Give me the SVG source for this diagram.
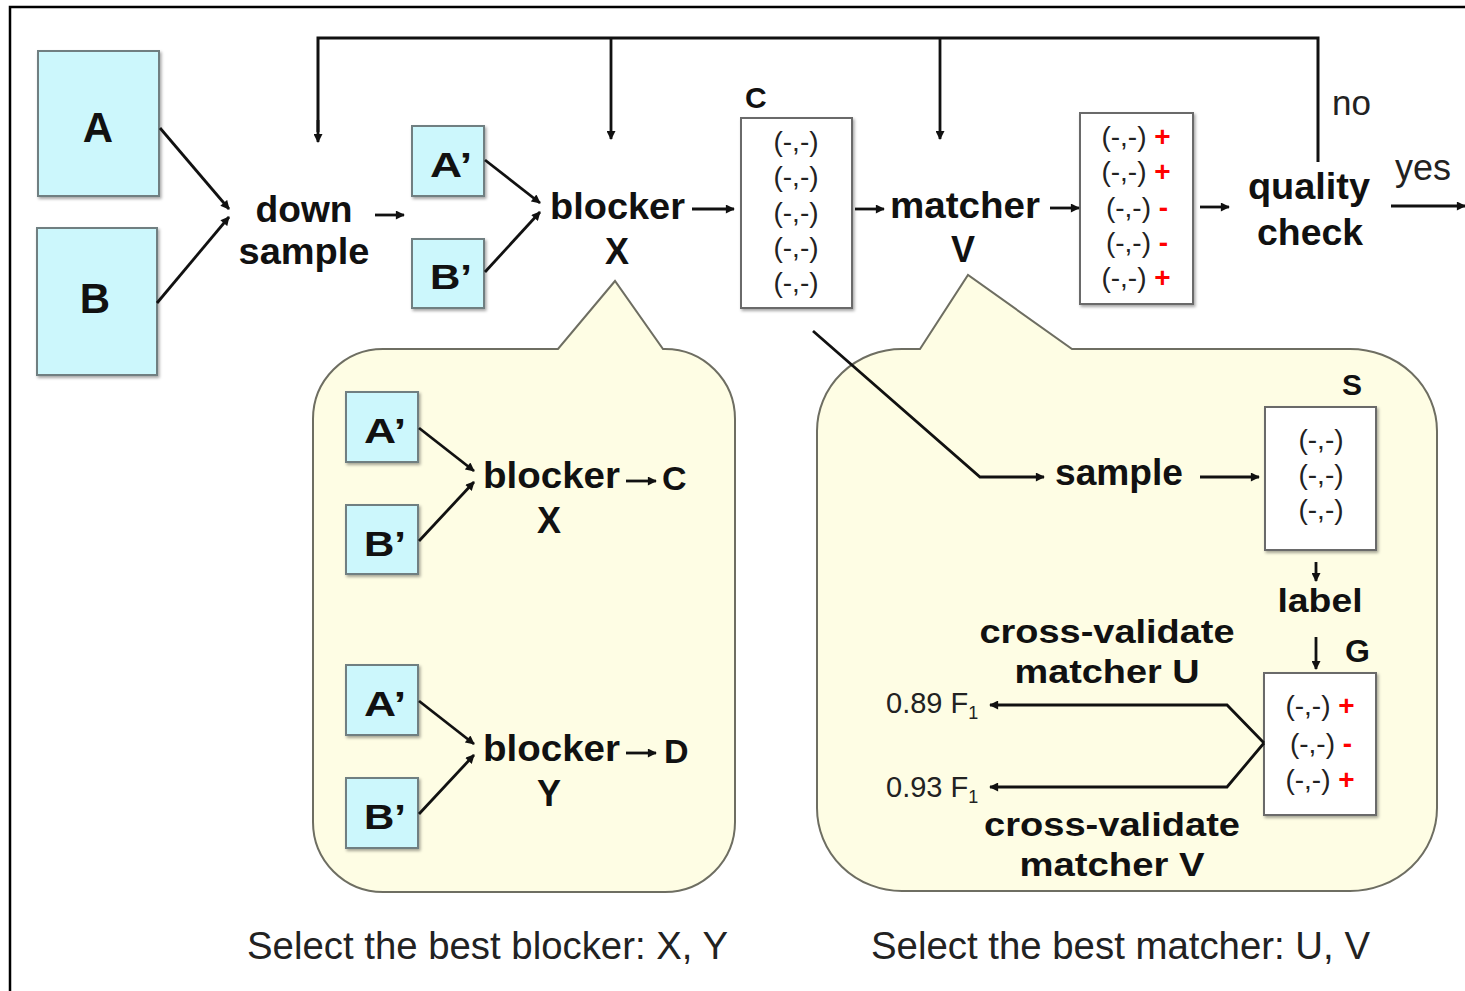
<svg xmlns="http://www.w3.org/2000/svg" width="1465" height="991" viewBox="0 0 1465 991">
  <defs>
    <marker id="arrow" viewBox="0 0 10 10" refX="9" refY="5" markerWidth="10" markerHeight="9" markerUnits="userSpaceOnUse" orient="auto">
      <path d="M0,0 L10,5 L0,10 z" fill="#111"/>
    </marker>
    <filter id="shadow" x="-10%" y="-10%" width="130%" height="130%">
      <feDropShadow dx="1.5" dy="2" stdDeviation="1.5" flood-color="#000" flood-opacity="0.35"/>
    </filter>
  </defs>
  <style>
    .table { fill: #ccf7fc; stroke: #6f7f81; stroke-width: 2; filter: url(#shadow); }
    .set { fill: #ffffff; stroke: #6a6a6a; stroke-width: 2; filter: url(#shadow); }
    .bubble { fill: #fefde4; stroke: #6e6e62; stroke-width: 2; }
    .b { font-family: "Liberation Sans", Arial, sans-serif; font-weight: bold; fill: #111; }
    .n { font-family: "Liberation Sans", Arial, sans-serif; fill: #222; }
    .pair { font-family: "Liberation Sans", Arial, sans-serif; font-size: 28px; fill: #222; }
    .pos { fill: #f00; font-weight: bold; }
    .c { text-anchor: middle; }
    .arr { fill: none; stroke: #111; stroke-width: 2.8; marker-end: url(#arrow); }
    .loop { fill: none; stroke: #111; stroke-width: 3; }
  </style>

  <!-- frame -->
  <path d="M10,991 V7 H1465" fill="none" stroke="#000" stroke-width="2.5"/>

  <!-- callout bubbles -->
  <g id="blocker-bubble">
    <path class="bubble" d="M383,349 H558 L615,281 L663,349 H665 A70,70 0 0 1 735,419 V822 A70,70 0 0 1 665,892 H383 A70,70 0 0 1 313,822 V419 A70,70 0 0 1 383,349 Z"/>
  </g>
  <g id="matcher-bubble">
    <path class="bubble" d="M902,349 H920 L968,275 L1072,349 H1350 A87,82 0 0 1 1437,431 V808 A87,83 0 0 1 1350,891 H902 A85,83 0 0 1 817,808 V431 A85,82 0 0 1 902,349 Z"/>
  </g>

  <!-- input tables -->
  <g id="table-A">
    <rect class="table" x="38" y="51" width="121" height="145"/>
    <text class="b c" x="98" y="142" font-size="42">A</text>
  </g>
  <g id="table-B">
    <rect class="table" x="37" y="228" width="120" height="147"/>
    <text class="b c" x="95" y="313" font-size="42">B</text>
  </g>

  <g id="down-sample">
    <text class="b c" x="304" y="222" font-size="36" textLength="97" lengthAdjust="spacingAndGlyphs">down</text>
    <text class="b c" x="304" y="264" font-size="36" textLength="131" lengthAdjust="spacingAndGlyphs">sample</text>
  </g>

  <g id="table-A1">
    <rect class="table" x="412" y="126" width="72" height="70"/>
    <text class="b c" x="451" y="177" font-size="35" textLength="42" lengthAdjust="spacingAndGlyphs">A’</text>
  </g>
  <g id="table-B1">
    <rect class="table" x="412" y="239" width="72" height="69"/>
    <text class="b c" x="451" y="289" font-size="35" textLength="42" lengthAdjust="spacingAndGlyphs">B’</text>
  </g>

  <g id="blocker-X">
    <text class="b" x="550" y="219" font-size="36" textLength="135" lengthAdjust="spacingAndGlyphs">blocker</text>
    <text class="b c" x="617" y="264" font-size="36">X</text>
  </g>

  <g id="candidates-C">
    <text class="b" x="745" y="108" font-size="30">C</text>
    <rect class="set" x="741" y="118" width="111" height="190"/>
    <text class="pair c" x="796" y="151">(-,-)</text>
    <text class="pair c" x="796" y="186">(-,-)</text>
    <text class="pair c" x="796" y="221.5">(-,-)</text>
    <text class="pair c" x="796" y="257">(-,-)</text>
    <text class="pair c" x="796" y="292">(-,-)</text>
  </g>

  <g id="matcher-V">
    <text class="b" x="890" y="218" font-size="36" textLength="150" lengthAdjust="spacingAndGlyphs">matcher</text>
    <text class="b c" x="963" y="262" font-size="36">V</text>
  </g>

  <g id="predictions">
    <rect class="set" x="1080" y="113" width="113" height="191"/>
    <text class="pair c" x="1136" y="146">(-,-) <tspan class="pos">+</tspan></text>
    <text class="pair c" x="1136" y="181">(-,-) <tspan class="pos">+</tspan></text>
    <text class="pair c" x="1137" y="216.5">(-,-) <tspan class="pos">-</tspan></text>
    <text class="pair c" x="1137" y="252">(-,-) <tspan class="pos">-</tspan></text>
    <text class="pair c" x="1136" y="287">(-,-) <tspan class="pos">+</tspan></text>
  </g>

  <g id="quality-check">
    <text class="b c" x="1309" y="199" font-size="36" textLength="122" lengthAdjust="spacingAndGlyphs">quality</text>
    <text class="b c" x="1310" y="245" font-size="36" textLength="106" lengthAdjust="spacingAndGlyphs">check</text>
  </g>

  <!-- blocker alternatives -->
  <g id="alt-A1">
    <rect class="table" x="346" y="392" width="72" height="70"/>
    <text class="b c" x="385" y="443" font-size="35" textLength="42" lengthAdjust="spacingAndGlyphs">A’</text>
  </g>
  <g id="alt-B1">
    <rect class="table" x="346" y="505" width="72" height="69"/>
    <text class="b c" x="385" y="556" font-size="35" textLength="42" lengthAdjust="spacingAndGlyphs">B’</text>
  </g>
  <g id="alt-blocker-X">
    <text class="b" x="483" y="488" font-size="36" textLength="137" lengthAdjust="spacingAndGlyphs">blocker</text>
    <text class="b c" x="549" y="533" font-size="36">X</text>
    <text class="b" x="662" y="490" font-size="34">C</text>
  </g>
  <g id="alt-A2">
    <rect class="table" x="346" y="665" width="72" height="70"/>
    <text class="b c" x="385" y="716" font-size="35" textLength="42" lengthAdjust="spacingAndGlyphs">A’</text>
  </g>
  <g id="alt-B2">
    <rect class="table" x="346" y="778" width="72" height="70"/>
    <text class="b c" x="385" y="829" font-size="35" textLength="42" lengthAdjust="spacingAndGlyphs">B’</text>
  </g>
  <g id="alt-blocker-Y">
    <text class="b" x="483" y="761" font-size="36" textLength="137" lengthAdjust="spacingAndGlyphs">blocker</text>
    <text class="b c" x="549" y="806" font-size="36">Y</text>
    <text class="b" x="664" y="763" font-size="34">D</text>
  </g>

  <!-- matcher evaluation -->
  <g id="sample-step">
    <text class="b" x="1055" y="485" font-size="36" textLength="128" lengthAdjust="spacingAndGlyphs">sample</text>
  </g>
  <g id="sample-S">
    <text class="b" x="1342" y="395" font-size="30">S</text>
    <rect class="set" x="1265" y="407" width="111" height="143"/>
    <text class="pair c" x="1321" y="449">(-,-)</text>
    <text class="pair c" x="1321" y="484">(-,-)</text>
    <text class="pair c" x="1321" y="519">(-,-)</text>
  </g>
  <g id="label-step">
    <text class="b c" x="1320" y="612" font-size="34" textLength="85" lengthAdjust="spacingAndGlyphs">label</text>
  </g>
  <g id="labeled-G">
    <text class="b" x="1345" y="662" font-size="32">G</text>
    <rect class="set" x="1264" y="673" width="112" height="142"/>
    <text class="pair c" x="1320" y="715">(-,-) <tspan class="pos">+</tspan></text>
    <text class="pair c" x="1321" y="753">(-,-) <tspan class="pos">-</tspan></text>
    <text class="pair c" x="1320" y="789">(-,-) <tspan class="pos">+</tspan></text>
  </g>
  <g id="cv-U">
    <text class="b c" x="1107" y="643" font-size="34" textLength="255" lengthAdjust="spacingAndGlyphs">cross-validate</text>
    <text class="b c" x="1107" y="683" font-size="34" textLength="185" lengthAdjust="spacingAndGlyphs">matcher U</text>
    <text class="n" x="886" y="713" font-size="29">0.89 F<tspan font-size="18" dy="6">1</tspan></text>
  </g>
  <g id="cv-V">
    <text class="b c" x="1112" y="836" font-size="34" textLength="256" lengthAdjust="spacingAndGlyphs">cross-validate</text>
    <text class="b c" x="1112" y="876" font-size="34" textLength="185" lengthAdjust="spacingAndGlyphs">matcher V</text>
    <text class="n" x="886" y="797" font-size="29">0.93 F<tspan font-size="18" dy="6">1</tspan></text>
  </g>

  <!-- decision labels and captions -->
  <g id="captions">
    <text class="n" x="1332" y="115" font-size="35">no</text>
    <text class="n" x="1395" y="180" font-size="36">yes</text>
    <text class="n" x="247" y="959" font-size="38" textLength="481" lengthAdjust="spacingAndGlyphs">Select the best blocker: X, Y</text>
    <text class="n" x="871" y="959" font-size="38" textLength="499" lengthAdjust="spacingAndGlyphs">Select the best matcher: U, V</text>
  </g>

  <!-- connectors -->
  <g id="connectors">
    <path class="arr" d="M160,128 L229,209"/>
    <path class="arr" d="M157,303 L229,217"/>
    <path class="arr" d="M375,215 H404"/>
    <path class="arr" d="M485,160 L540,203"/>
    <path class="arr" d="M485,272 L540,212"/>
    <path class="arr" d="M692,209 H734"/>
    <path class="arr" d="M855,209 H884"/>
    <path class="arr" d="M1050,208 H1079"/>
    <path class="arr" d="M1200,207 H1229"/>
    <path class="arr" d="M1391,206 H1465"/>

    <!-- retry loop from the quality check -->
    <path class="loop" d="M1318,162 V38 H318 V132"/>
    <path class="arr" d="M318,120 V142" stroke-width="3"/>
    <path class="arr" d="M611,38 V139" stroke-width="3"/>
    <path class="arr" d="M940,38 V139" stroke-width="3"/>

    <!-- inside blocker bubble -->
    <path class="arr" d="M419,428 L474,471"/>
    <path class="arr" d="M419,541 L474,482"/>
    <path class="arr" d="M626,481 H656"/>
    <path class="arr" d="M419,701 L474,744"/>
    <path class="arr" d="M419,814 L474,755"/>
    <path class="arr" d="M626,753 H656"/>

    <!-- inside matcher bubble -->
    <path class="arr" d="M813,331 L980,477 H1044"/>
    <path class="arr" d="M1200,477 H1259"/>
    <path class="arr" d="M1316,562 V581" stroke-width="2"/>
    <path class="arr" d="M1316,637 V669" stroke-width="2"/>
    <path class="arr" d="M1264,743 L1227,705 H990"/>
    <path class="arr" d="M1264,743 L1227,787 H990"/>
  </g>
</svg>
